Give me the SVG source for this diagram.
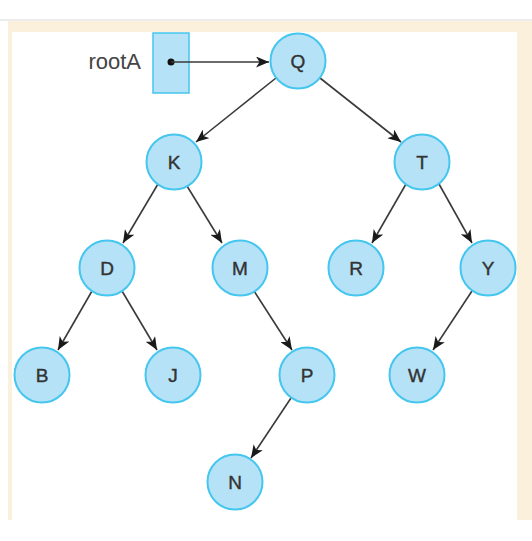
<svg xmlns="http://www.w3.org/2000/svg" width="532" height="541" viewBox="0 0 532 541">
<defs>
<style>
.node circle{fill:#b5e2f6;stroke:#45c6ee;stroke-width:2}
.node text{font-family:"Liberation Sans",Arial,sans-serif;font-size:19px;fill:#333;text-anchor:middle;dominant-baseline:central;stroke:#333;stroke-width:0.4}
.edge{stroke:#3a3a3a;stroke-width:1.6;fill:none;marker-end:url(#ah)}
</style>
<marker id="ah" viewBox="0 0 13 11" refX="13" refY="5.5" markerWidth="13" markerHeight="11" markerUnits="userSpaceOnUse" orient="auto">
<path d="M0,0 L13,5.5 L0,11 L3.5,5.5 Z" fill="#1a1a1a"/>
</marker>
</defs>
<rect x="0" y="0" width="532" height="541" fill="#fff"/>
<rect x="0" y="19" width="532" height="2" fill="#ececec"/>
<rect x="8" y="21" width="524" height="499" fill="#fbf0dc"/>
<rect x="12" y="32" width="505" height="488" fill="#fff"/>
<g id="rootA">
<text x="141" y="69" font-family="Liberation Sans,Arial,sans-serif" font-size="22" fill="#444" text-anchor="end">rootA</text>
<rect x="153" y="33" width="36" height="60" fill="#b5e2f6" stroke="#45c6ee" stroke-width="1.5"/>
<circle cx="171" cy="62" r="3.5" fill="#111"/>
</g>
<g id="connectors">
<line class="edge" x1="171" y1="62" x2="269" y2="62"/>
<line class="edge" x1="276" y1="78" x2="196" y2="142"/>
<line class="edge" x1="320" y1="78" x2="401" y2="142"/>
<line class="edge" x1="158" y1="184" x2="123" y2="243"/>
<line class="edge" x1="187" y1="186" x2="222" y2="243"/>
<line class="edge" x1="406" y1="184" x2="372" y2="243"/>
<line class="edge" x1="439" y1="184" x2="472" y2="243"/>
<line class="edge" x1="92" y1="291" x2="58" y2="350"/>
<line class="edge" x1="122" y1="291" x2="157" y2="350"/>
<line class="edge" x1="254" y1="291" x2="292" y2="350"/>
<line class="edge" x1="472" y1="291" x2="433" y2="350"/>
<line class="edge" x1="291" y1="398" x2="251" y2="458"/>
</g>
<g id="node-Q" class="node"><circle cx="298" cy="61" r="27.5"/><text x="298" y="61">Q</text></g>
<g id="node-K" class="node"><circle cx="174" cy="162" r="27.5"/><text x="174" y="162">K</text></g>
<g id="node-T" class="node"><circle cx="422" cy="162" r="27.5"/><text x="422" y="162">T</text></g>
<g id="node-D" class="node"><circle cx="107" cy="268" r="27.5"/><text x="107" y="268">D</text></g>
<g id="node-M" class="node"><circle cx="240" cy="268" r="27.5"/><text x="240" y="268">M</text></g>
<g id="node-R" class="node"><circle cx="356" cy="268" r="27.5"/><text x="356" y="268">R</text></g>
<g id="node-Y" class="node"><circle cx="488" cy="268" r="27.5"/><text x="488" y="268">Y</text></g>
<g id="node-B" class="node"><circle cx="42" cy="375" r="27.5"/><text x="42" y="375">B</text></g>
<g id="node-J" class="node"><circle cx="173" cy="375" r="27.5"/><text x="173" y="375">J</text></g>
<g id="node-P" class="node"><circle cx="307" cy="375" r="27.5"/><text x="307" y="375">P</text></g>
<g id="node-W" class="node"><circle cx="417" cy="375" r="27.5"/><text x="417" y="375">W</text></g>
<g id="node-N" class="node"><circle cx="235" cy="482" r="27.5"/><text x="235" y="482">N</text></g>
</svg>
